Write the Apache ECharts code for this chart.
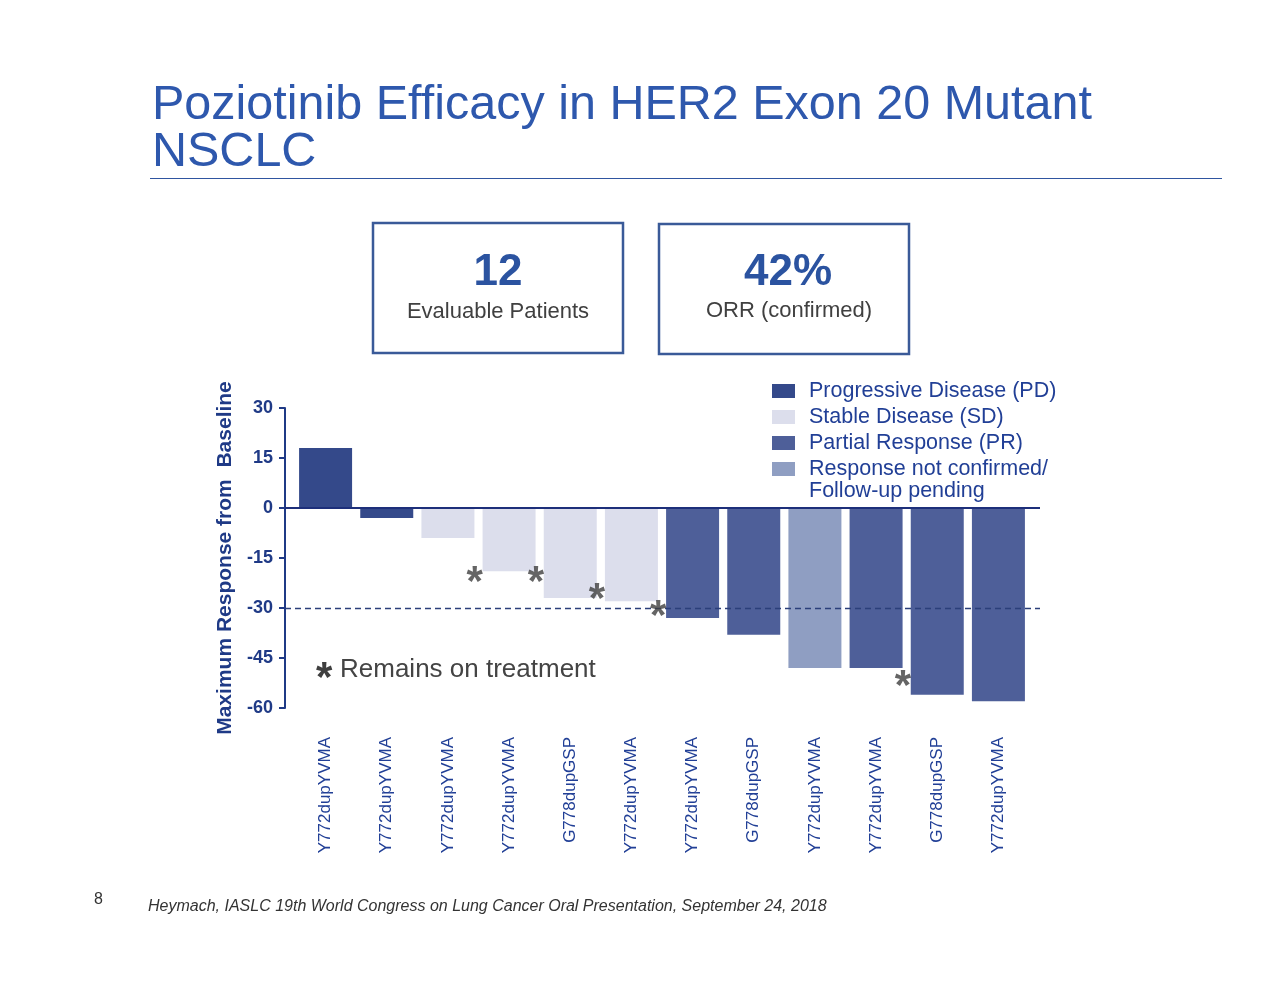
<!DOCTYPE html>
<html>
<head>
<meta charset="utf-8">
<script src="https://cdn.jsdelivr.net/npm/echarts@6/dist/echarts.min.js"></script>
<style>
html,body{margin:0;padding:0;background:#fff;}
#chart{width:1280px;height:989px;}
</style>
</head>
<body>
<div id="chart"></div>
<script>
// ---- data ----
const categories = ['Y772dupYVMA','Y772dupYVMA','Y772dupYVMA','Y772dupYVMA','G778dupGSP','Y772dupYVMA','Y772dupYVMA','G778dupGSP','Y772dupYVMA','Y772dupYVMA','G778dupGSP','Y772dupYVMA'];
const responses = [18, -3, -9, -19, -27, -28, -33, -38, -48, -48, -56, -58];
const status = ['PD','PD','SD','SD','SD','SD','PR','PR','NC','PR','PR','PR'];
const groupKeys = ['PD','SD','PR','NC'];
const groupNames = ['Progressive Disease (PD)','Stable Disease (SD)','Partial Response (PR)','Response not confirmed/'];
const groupColors = ['#34498a','#dcdeec','#4e5f99','#8f9ec2'];
const yMin = -60, yMax = 30, yStep = 15;
const remainsIdx = [3, 4, 5, 6, 10];
const remainsLevel = [-20, -20, -25, -30, -51];
const refLines = [0, -30];

const navy = '#1f3a86';
const FF = 'Liberation Sans, Arial, sans-serif';
const barSeries = groupKeys.map((k, gi) => ({
  name: groupNames[gi],
  type: 'bar',
  xAxisIndex: 0, yAxisIndex: 0,
  stack: 'all',
  barWidth: 53,
  itemStyle: { color: groupColors[gi] },
  data: responses.map((v, i) => status[i] === k ? v : '-'),
  z: 2
}));

const chart = echarts.init(document.getElementById('chart'));
chart.setOption({
  animation: false,
  backgroundColor: '#fff',
  grid: [
    { left: 295, right: 251, top: 408, height: 300 },
    { left: 285, right: 240, top: 408, height: 300 }
  ],
  xAxis: [
    { type: 'category', gridIndex: 0, data: categories,
      axisLine: { show: false }, axisTick: { show: false },
      axisLabel: { rotate: 90, interval: 0, margin: 29, fontSize: 17,
        fontFamily: FF, color: '#213f96' } },
    { type: 'value', gridIndex: 1, min: -0.66, max: 11.68, show: false }
  ],
  yAxis: [
    { type: 'value', gridIndex: 0, min: yMin, max: yMax, interval: yStep, show: false },
    { type: 'value', gridIndex: 1, min: yMin, max: yMax, interval: yStep,
      name: 'Maximum Response from  Baseline', nameLocation: 'middle', nameGap: 47,
      nameTextStyle: { fontSize: 21, fontWeight: 'bold', color: navy, fontFamily: FF },
      axisLine: { show: true, onZero: false, lineStyle: { color: navy, width: 2 } },
      axisTick: { show: true, length: 6, lineStyle: { color: navy, width: 2 } },
      axisLabel: { fontSize: 18, fontWeight: 'bold', color: navy, margin: 12, fontFamily: FF },
      splitLine: { show: false } }
  ],
  legend: {
    left: 772, top: 378, orient: 'vertical', selectedMode: false,
    itemWidth: 23, itemHeight: 14, itemGap: 0, icon: 'rect', padding: 0,
    data: groupNames,
    textStyle: { fontSize: 21.5, lineHeight: 26, color: '#213f96', padding: [0,0,0,9], fontFamily: FF }
  },
  series: barSeries.concat([
    { type: 'line', xAxisIndex: 1, yAxisIndex: 1, data: [], silent: true, z: 5,
      markLine: { silent: true, symbol: 'none', label: { show: false },
        data: refLines.map((v, i) => ({ yAxis: v,
          lineStyle: i === 0 ? { color: '#1d2f7a', width: 2, type: 'solid' }
                             : { color: '#2b3f7a', width: 1.3, type: [6, 4] } })) } },
    { type: 'scatter', xAxisIndex: 1, yAxisIndex: 1, symbolSize: 0, z: 6, silent: true,
      data: remainsIdx.map((idx, i) => [idx - 0.56, remainsLevel[i]]),
      label: { show: true, position: 'inside', formatter: '*', fontSize: 42, fontWeight: 'bold',
        color: '#3f3f3f', fontFamily: FF, offset: [0, 9] } }
  ]),
  graphic: [
    { type: 'text', left: 152, top: 81, style: { text: 'Poziotinib Efficacy in HER2 Exon 20 Mutant\nNSCLC',
      font: '48.5px "Liberation Sans", Arial, sans-serif', fill: '#2e58ad', lineHeight: 47 } },
    { type: 'line', shape: { x1: 150, y1: 178.5, x2: 1222, y2: 178.5 }, style: { stroke: '#2f55a0', lineWidth: 1 } },
    { type: 'rect', shape: { x: 373, y: 223, width: 250, height: 130 }, style: { fill: 'none', stroke: '#3a5a98', lineWidth: 2.5 } },
    { type: 'rect', shape: { x: 659, y: 224, width: 250, height: 130 }, style: { fill: 'none', stroke: '#3a5a98', lineWidth: 2.5 } },
    { type: 'text', x: 498, y: 273, style: { text: '12', font: 'bold 44px "Liberation Sans", Arial, sans-serif', fill: '#2b53a0', align: 'center', verticalAlign: 'middle' } },
    { type: 'text', x: 498, y: 312, style: { text: 'Evaluable Patients', font: '22px "Liberation Sans", Arial, sans-serif', fill: '#404040', align: 'center', verticalAlign: 'middle' } },
    { type: 'text', x: 788, y: 273, style: { text: '42%', font: 'bold 44px "Liberation Sans", Arial, sans-serif', fill: '#2b53a0', align: 'center', verticalAlign: 'middle' } },
    { type: 'text', x: 789, y: 311, style: { text: 'ORR (confirmed)', font: '22px "Liberation Sans", Arial, sans-serif', fill: '#404040', align: 'center', verticalAlign: 'middle' } },
    { type: 'text', x: 809, y: 491, style: { text: 'Follow-up pending', font: '21.5px "Liberation Sans", Arial, sans-serif', fill: '#213f96', verticalAlign: 'middle' } },
    { type: 'text', x: 316, y: 679, style: { text: '*', font: 'bold 42px "Liberation Sans", Arial, sans-serif', fill: '#3f3f3f', verticalAlign: 'middle' } },
    { type: 'text', x: 340, y: 670, style: { text: 'Remains on treatment', font: '26px "Liberation Sans", Arial, sans-serif', fill: '#444', verticalAlign: 'middle' } },
    { type: 'text', x: 94, y: 900, style: { text: '8', font: '16px "Liberation Sans", Arial, sans-serif', fill: '#333', verticalAlign: 'middle' } },
    { type: 'text', x: 148, y: 907, style: { text: 'Heymach, IASLC 19th World Congress on Lung Cancer Oral Presentation, September 24, 2018', font: 'italic 16px "Liberation Sans", Arial, sans-serif', fill: '#333', verticalAlign: 'middle' } }
  ]
});
</script>
</body>
</html>
